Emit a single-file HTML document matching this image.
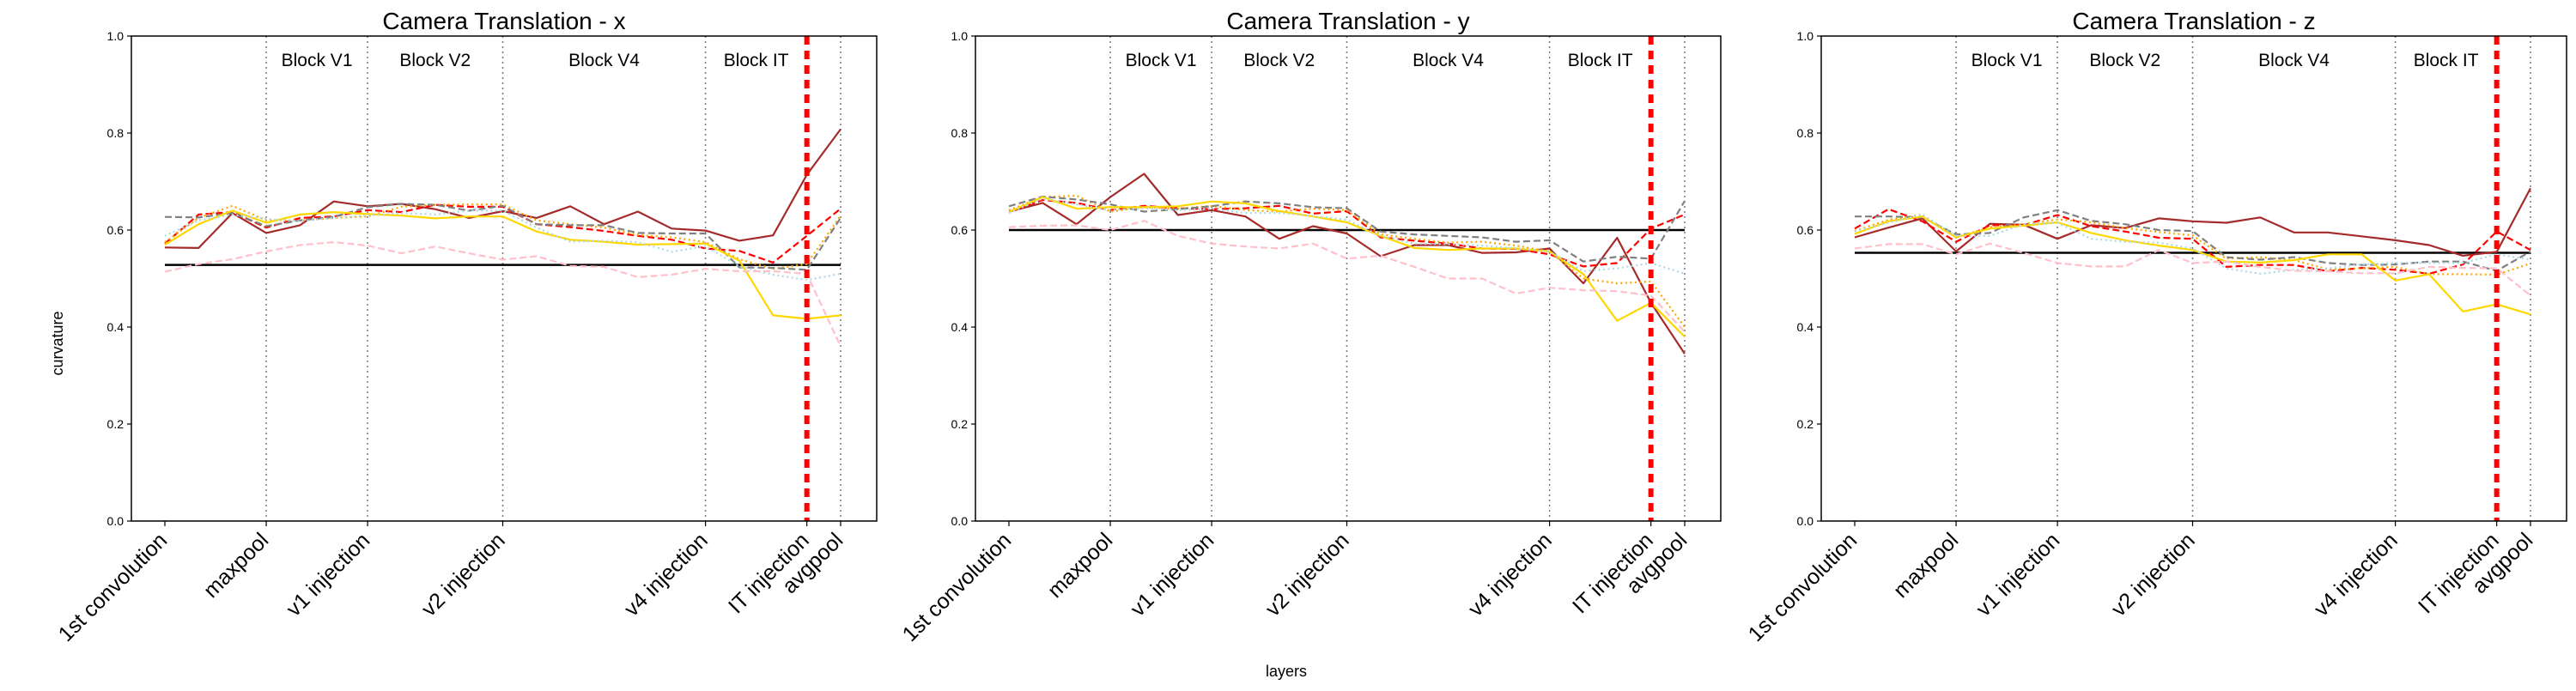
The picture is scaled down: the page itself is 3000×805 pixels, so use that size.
<!DOCTYPE html>
<html><head><meta charset="utf-8"><style>
body{margin:0;background:#fff;}
svg text{font-family:"Liberation Sans",sans-serif;fill:#000;}
</style></head><body>
<svg id="chart" width="3000" height="800" viewBox="0 0 3000 800" xmlns="http://www.w3.org/2000/svg">
<text x="73" y="400" font-size="18" text-anchor="middle" transform="rotate(-90 73 400)">curvature</text>
<text x="1498" y="788" font-size="18" text-anchor="middle">layers</text>
</svg>
<script>
const titles = ["Camera Translation - x","Camera Translation - y","Camera Translation - z"];
const tickLabels = ["1st convolution","maxpool","v1 injection","v2 injection","v4 injection","IT injection","avgpool"];
const tickIndex = [0,3,6,10,16,19,20];
const blockLabels = ["Block V1","Block V2","Block V4","Block IT"];
const blockBounds = [[3,6],[6,10],[10,16],[16,19]];
const dividerIndex = [3,6,10,16,20];
const itIndex = 19;
const yTicks = [0.0,0.2,0.4,0.6,0.8,1.0];
const baseline = [0.528,0.600,0.553];

const brownX=[0.564,0.563,0.635,0.594,0.610,0.659,0.649,0.654,0.643,0.625,0.639,0.625,0.649,0.612,0.638,0.603,0.599,0.578,0.589,0.714,0.808];
const redX=[0.572,0.632,0.637,0.605,0.625,0.628,0.641,0.637,0.652,0.648,0.648,0.612,0.606,0.598,0.588,0.580,0.562,0.557,0.533,0.588,0.644];
const orangeX=[0.575,0.625,0.650,0.620,0.620,0.625,0.628,0.648,0.652,0.653,0.653,0.620,0.612,0.605,0.590,0.585,0.575,0.540,0.520,0.530,0.630];
const grayX=[0.627,0.626,0.635,0.608,0.620,0.627,0.647,0.654,0.652,0.640,0.650,0.612,0.610,0.610,0.594,0.593,0.593,0.523,0.522,0.518,0.625];
const yellowX=[0.570,0.612,0.640,0.615,0.632,0.637,0.633,0.630,0.624,0.628,0.628,0.597,0.580,0.576,0.570,0.571,0.572,0.537,0.424,0.417,0.424];
const blueX=[0.588,0.620,0.632,0.623,0.618,0.625,0.630,0.635,0.632,0.640,0.640,0.605,0.576,0.578,0.575,0.555,0.567,0.525,0.508,0.497,0.510];
const pinkX=[0.514,0.530,0.540,0.556,0.569,0.575,0.568,0.552,0.566,0.552,0.539,0.546,0.526,0.524,0.503,0.508,0.520,0.515,0.515,0.510,0.360];

const brownY=[0.638,0.656,0.612,0.668,0.716,0.631,0.641,0.628,0.582,0.608,0.593,0.546,0.569,0.569,0.553,0.554,0.562,0.490,0.584,0.450,0.345];
const redY=[0.637,0.662,0.656,0.641,0.650,0.645,0.643,0.645,0.650,0.634,0.639,0.585,0.578,0.572,0.562,0.561,0.550,0.525,0.532,0.603,0.632];
const orangeY=[0.641,0.668,0.671,0.638,0.647,0.644,0.650,0.641,0.638,0.644,0.641,0.591,0.582,0.574,0.576,0.568,0.556,0.500,0.490,0.494,0.400];
const grayY=[0.649,0.669,0.663,0.653,0.638,0.643,0.649,0.659,0.655,0.647,0.645,0.597,0.591,0.588,0.585,0.576,0.579,0.535,0.545,0.541,0.660];
const yellowY=[0.637,0.668,0.644,0.647,0.647,0.649,0.659,0.655,0.639,0.628,0.616,0.588,0.563,0.559,0.562,0.562,0.556,0.509,0.413,0.450,0.380];
const blueY=[0.635,0.665,0.653,0.641,0.645,0.641,0.644,0.635,0.635,0.629,0.621,0.588,0.572,0.571,0.568,0.562,0.556,0.515,0.521,0.532,0.510];
const pinkY=[0.606,0.609,0.610,0.600,0.619,0.588,0.572,0.566,0.562,0.572,0.541,0.547,0.524,0.500,0.500,0.469,0.481,0.476,0.474,0.465,0.390];

const brownZ=[0.585,0.605,0.624,0.556,0.613,0.611,0.582,0.610,0.604,0.624,0.618,0.615,0.626,0.595,0.595,0.587,0.579,0.569,0.547,0.555,0.686];
const redZ=[0.603,0.643,0.618,0.576,0.610,0.610,0.631,0.608,0.597,0.584,0.582,0.524,0.528,0.528,0.515,0.522,0.518,0.510,0.529,0.597,0.559];
const orangeZ=[0.598,0.621,0.632,0.585,0.606,0.612,0.622,0.616,0.604,0.596,0.589,0.541,0.544,0.538,0.519,0.521,0.524,0.509,0.509,0.508,0.531];
const grayZ=[0.628,0.628,0.626,0.591,0.594,0.626,0.641,0.619,0.612,0.600,0.598,0.544,0.539,0.544,0.532,0.528,0.529,0.535,0.535,0.516,0.556];
const yellowZ=[0.592,0.618,0.628,0.585,0.603,0.609,0.616,0.594,0.579,0.568,0.559,0.535,0.533,0.538,0.550,0.550,0.496,0.509,0.432,0.447,0.426];
const blueZ=[0.597,0.615,0.632,0.588,0.588,0.612,0.615,0.582,0.576,0.574,0.562,0.521,0.510,0.518,0.521,0.529,0.532,0.532,0.532,0.550,0.539];
const pinkZ=[0.562,0.571,0.571,0.550,0.572,0.553,0.532,0.525,0.525,0.559,0.532,0.535,0.524,0.516,0.515,0.511,0.511,0.524,0.522,0.521,0.465];

const panelData=[
 [brownX,redX,orangeX,grayX,yellowX,blueX,pinkX],
 [brownY,redY,orangeY,grayY,yellowY,blueY,pinkY],
 [brownZ,redZ,orangeZ,grayZ,yellowZ,blueZ,pinkZ]];
const seriesNames=["brown","red","orange","gray","yellow","lightblue","pink"];
const seriesStyle=[
 {c:"#a52a2a",d:""},{c:"#ff0000",d:"8,4"},{c:"#ffa500",d:"2,3.5"},{c:"#808080",d:"8,4"},
 {c:"#ffd700",d:""},{c:"#add8e6",d:"2,3.5"},{c:"#ffc0cb",d:"8,4"}];

const NS="http://www.w3.org/2000/svg";
const svg=document.getElementById("chart");
const panelLeft=[153,1136,2121], W=868, TOP=42, BOT=607;
function mk(tag,attrs,parent){const e=document.createElementNS(NS,tag);for(const k in attrs)e.setAttribute(k,attrs[k]);(parent||svg).appendChild(e);return e;}

panelData.forEach((series,p)=>{
  const L=panelLeft[p];
  const xs=i=>L+39+i*39.35;
  const ys=v=>BOT-(BOT-TOP)*v;
  const g=mk("g",{});
  
  
  const t=mk("text",{x:L+W/2,y:34,"font-size":28,"text-anchor":"middle"},g);
  t.textContent=titles[p];
  
  
  yTicks.forEach(v=>{
    mk("line",{x1:L-5,x2:L,y1:ys(v),y2:ys(v),stroke:"#000","stroke-width":1.2},g);
    const tl=mk("text",{x:L-9,y:ys(v)+5,"font-size":14,"text-anchor":"end"},g);
    tl.textContent=v.toFixed(1);
    
    
  });
  dividerIndex.forEach(i=>{
    const dl=mk("line",{x1:xs(i),x2:xs(i),y1:TOP,y2:BOT,stroke:"#777","stroke-width":1.5,"stroke-dasharray":"2,4"},g);
    
    
  });
  blockLabels.forEach((b,k)=>{
    const cx=(xs(blockBounds[k][0])+xs(blockBounds[k][1]))/2;
    const bt=mk("text",{x:cx,y:77,"font-size":21,"text-anchor":"middle"},g);
    bt.textContent=b;
    
    
  });
  const bl=mk("line",{x1:xs(0),x2:xs(20),y1:ys(baseline[p]),y2:ys(baseline[p]),stroke:"#000","stroke-width":2.5},g);
  
  
  series.forEach((vals,s)=>{
    const pts=vals.map((v,i)=>xs(i).toFixed(1)+","+ys(v).toFixed(1)).join(" ");
    const pl=mk("polyline",{points:pts,fill:"none",stroke:seriesStyle[s].c,"stroke-width":2.2,"stroke-dasharray":seriesStyle[s].d,"stroke-linejoin":"round"},g);
    
    
  });
  const it=mk("line",{x1:xs(itIndex),x2:xs(itIndex),y1:TOP,y2:BOT,stroke:"#ff0000","stroke-width":6,"stroke-dasharray":"10,7"},g);
  
  
  const fr=mk("rect",{x:L,y:TOP,width:W,height:BOT-TOP,fill:"none",stroke:"#000","stroke-width":1.5},g);
  
  
  tickIndex.forEach((i,k)=>{
    mk("line",{x1:xs(i),x2:xs(i),y1:BOT,y2:BOT+6,stroke:"#000","stroke-width":1.2},g);
    const x=xs(i)+4,y=BOT+24;
    const xl=mk("text",{x:x,y:y,"font-size":25,"text-anchor":"end",transform:`rotate(-45 ${x} ${y})`},g);
    xl.textContent=tickLabels[k];
    
    
  });
});
</script>
</body></html>
